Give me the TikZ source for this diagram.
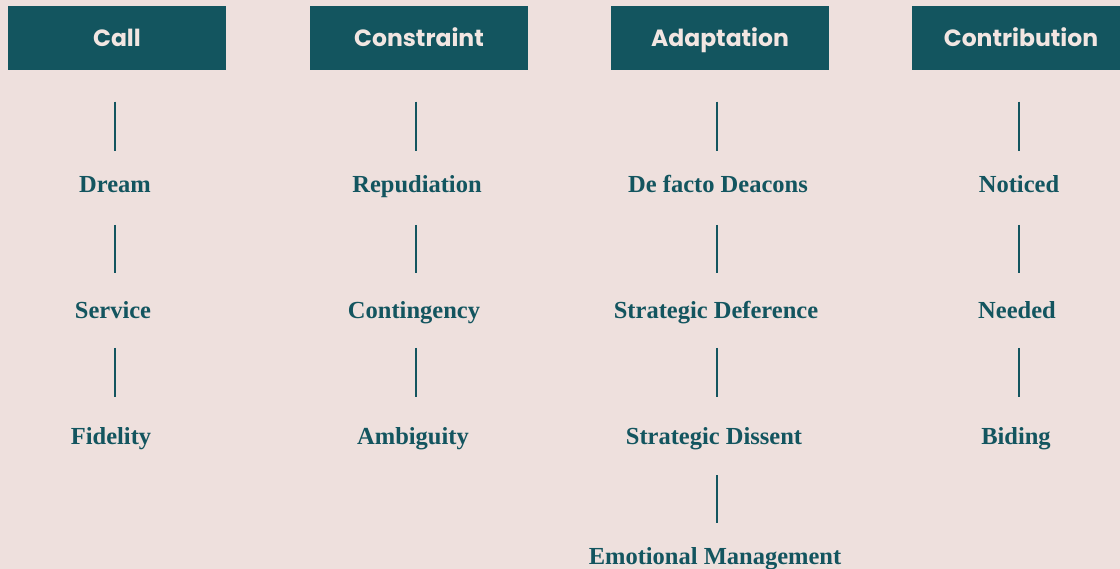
\documentclass[tikz,border=0pt]{standalone}
\usepackage{fontspec}
\setmainfont{Liberation Serif}
\newfontfamily\hdrfont{Poppins}
\definecolor{bgc}{HTML}{EEE0DD}
\definecolor{teal}{HTML}{13555F}
\definecolor{hdrtxt}{HTML}{F2E6E2}
\begin{document}
\begin{tikzpicture}[x=1pt,y=-1pt,
  hdr/.style={fill=teal,minimum width=218pt,minimum height=64pt,inner sep=0pt,
    font=\hdrfont\bfseries\fontsize{23.5}{26}\selectfont,text=hdrtxt,
    text height=17pt,text depth=0pt},
  item/.style={anchor=base,inner sep=0pt,text=teal,
    font=\bfseries\fontsize{24.5}{28}\selectfont},
  conn/.style={draw=teal,line width=1.2pt}]
\fill[bgc] (0,0) rectangle (1120,569);
\useasboundingbox (0,0) rectangle (1120,569);
\begin{scope}
\clip (0,0) rectangle (1120,569);
\node[hdr] (h1) at (117,38.5) {Call};
\node[hdr] (h2) at (419,38.5) {Constraint};
\node[hdr] (h3) at (720,38.5) {Adaptation};
\node[hdr] (h4) at (1021,38.5) {Contribution};
\end{scope}
% column axes
\coordinate (k1) at (115,0);
\coordinate (k2) at (416,0);
\coordinate (k3) at (717,0);
\coordinate (k4) at (1019,0);
% column 1
\node[item] (a1) at (115,193) {Dream};
\node[item] (a2) at (113,318.5) {Service};
\node[item] (a3) at (111,444) {Fidelity};
% column 2
\node[item] (b1) at (417,193) {Repudiation};
\node[item] (b2) at (414,318.5) {Contingency};
\node[item] (b3) at (413,444) {Ambiguity};
% column 3
\node[item] (c1) at (718,193) {De facto Deacons};
\node[item] (c2) at (716,318.5) {Strategic Deference};
\node[item] (c3) at (714,444) {Strategic Dissent};
\node[item] (c4) at (715,564) {Emotional Management};
% column 4
\node[item] (d1) at (1019,193) {Noticed};
\node[item] (d2) at (1017,318.5) {Needed};
\node[item] (d3) at (1016,444) {Biding};
% connectors
\foreach \k/\h/\p/\q in {k1/h1/a1/a2, k2/h2/b1/b2, k3/h3/c1/c2, k4/h4/d1/d2}{
  \draw[conn] (\k |- \h.south) ++(0,31) -- ++(0,49);
  \draw[conn] (\k |- \p.base) ++(0,32) -- ++(0,48);
  \draw[conn] (\k |- \q.base) ++(0,29.5) -- ++(0,49);
}
\draw[conn] (k3 |- c3.base) ++(0,31) -- ++(0,48);
\end{tikzpicture}
\end{document}
